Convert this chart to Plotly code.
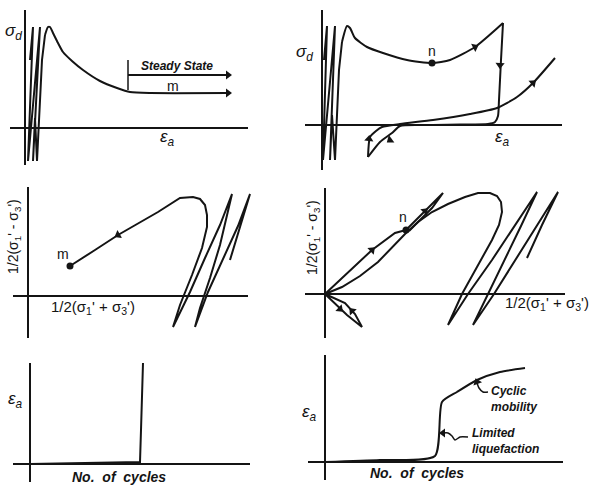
import math
import plotly.graph_objects as go

W, H = 599, 486

# ---------------- DATA (local units: origin at each panel's axis crossing) ----------------
# Panel 1: sigma_d vs eps_a (contractive, flow to steady state)
p1_cyc_x = [5, 8, 3, 15, 8, 10, 12, 17, 20]
p1_cyc_y = [68, 101, -33, 101, -33, 10, -33, 68, 93]
p1_soft_x = [20, 23, 25, 28, 33, 38, 47, 58, 75, 92, 105, 125, 203]
p1_soft_y = [93, 101, 101, 95, 85, 76, 67, 58, 47, 40, 36, 35, 35]
p1_tick_x = [103, 103]
p1_tick_y = [68, 38]
p1_ss_x = [103, 203]
p1_ss_y = [53, 53]

# Panel 2: sigma_d vs eps_a (limited liquefaction)
p2_cyc_x = [2, 5, 1, 13, 8, 10, 13, 17, 20]
p2_cyc_y = [65, 99, -35, 99, -35, 10, -35, 55, 83]
p2_main_x = [20, 25, 28, 33, 45, 61, 85, 110, 128, 153, 181]
p2_main_y = [83, 99, 97, 87, 78, 72, 65, 62, 65, 78, 102]
p2_drop_x = [181, 179, 177, 176, 173, 166, 138, 98, 78, 70, 58, 46]
p2_drop_y = [102, 65, 25, 9, 3, 1, 0.5, 0, -1, -8, -17, -32]
p2_rise_x = [46, 48, 54, 60, 78, 111, 148, 175, 195, 211, 233]
p2_rise_y = [-32, -12, -6, -2, 1, 5, 11, 17, 28, 42, 67]
p2_n = (110, 62)

# Panel 3: stress path, contractive
p3_path_x = [202, 212, 222, 210, 194, 180, 167, 172, 182, 192, 204, 192, 177, 162, 145,
             152, 164, 174, 179, 179, 177, 172, 165, 152, 130, 90, 67, 42]
p3_path_y = [36, 68, 102, 70, 34, 4, -31, -12, 18, 51, 102, 71, 38, 4, -31,
             -9, 21, 48, 69, 81, 91, 97, 99, 98, 84, 61, 46, 30]
p3_m = (42, 30)

# Panel 4: stress path, limited liquefaction
p4_path_x = [202, 217, 233, 213, 191, 169, 148, 163, 180, 196, 212, 191, 167, 143, 123,
             137, 153, 167, 174, 177, 176, 172, 165, 153, 140, 123, 107, 93, 80, 67, 53, 35, 17, 0]
p4_path_y = [36, 69, 102, 70, 34, 0, -31, 0, 34, 68, 102, 70, 34, 0, -31,
             0, 29, 54, 69, 82, 92, 98, 101, 101, 97, 90, 82, 72, 60, 46, 32, 18, 7, 0]
p4_loop_x = [0, 10, 22, 37, 30, 20, 0]
p4_loop_y = [0, -10, -21, -33, -20, -9, 0]
p4_line_x = [0, 47, 70, 81]
p4_line_y = [0, 44, 61, 64]
p4_lens_x = [81, 100, 118, 107, 95, 84]
p4_lens_y = [64, 83, 101, 86, 74, 63]
p4_n = (81, 64)

# Panel 5: eps_a vs number of cycles (flow liquefaction)
p5_x = [0, 50, 110, 111, 112, 113]
p5_y = [0, 1, 2, 34, 64, 101]

# Panel 6: eps_a vs number of cycles (limited liquefaction + cyclic mobility)
p6_x = [0, 55, 110, 117, 132, 152, 175, 200]
p6_y = [0, 2, 6, 60, 70, 82, 90, 94]
p6_cm_ptr_x = [163, 158, 154, 152]
p6_cm_ptr_y = [70, 70, 74, 79]
p6_ll_ptr_x = [143, 135, 130, 127, 123, 118]
p6_ll_ptr_y = [25, 25, 22, 26, 29, 29]

# Arrowhead locations (on the curves)
p1_arrows = [(203, 35), (203, 53)]
p2_arrows = [(153, 78), (178, 60), (68, -15), (47, -14), (211, 42)]
p3_arrows = [(90, 61)]
p4_arrows = [(47, 44), (100, 83), (15, -15), (27, -17)]
p6_arrows = [(152, 80), (118, 29)]

# ---------------- LAYOUT ----------------
PANELS = [
    dict(box=(0, 300, 0, 170), origin=(25, 128), v=(118, -37), h=(-15, 223)),
    dict(box=(300, 599, 0, 170), origin=(322, 125), v=(115, -45), h=(-17, 240)),
    dict(box=(0, 300, 170, 340), origin=(28, 296), v=(109, -42), h=(-15, 220)),
    dict(box=(300, 599, 170, 340), origin=(325, 294), v=(106, -44), h=(-20, 240)),
    dict(box=(0, 300, 340, 486), origin=(30, 464), v=(101, -18), h=(-17, 220)),
    dict(box=(300, 599, 340, 486), origin=(325, 462), v=(107, -18), h=(-17, 238)),
]

INK = "#141414"
FONT = "Liberation Sans"
fig = go.Figure()
layout = dict(width=W, height=H, margin=dict(l=0, r=0, t=0, b=0),
              paper_bgcolor="white", plot_bgcolor="white", showlegend=False)
shapes = []
annotations = []


def names(i):
    return ("x" if i == 1 else f"x{i}", "y" if i == 1 else f"y{i}")


for i, p in enumerate(PANELS, start=1):
    x0, x1, y0, y1 = p["box"]
    ox, oy = p["origin"]
    xn, yn = names(i)
    layout["xaxis" if i == 1 else f"xaxis{i}"] = dict(
        domain=[x0 / W, x1 / W], range=[x0 - ox, x1 - ox], visible=False,
        anchor=yn, fixedrange=True)
    layout["yaxis" if i == 1 else f"yaxis{i}"] = dict(
        domain=[1 - y1 / H, 1 - y0 / H], range=[oy - y1, oy - y0], visible=False,
        anchor=xn, fixedrange=True)
    shapes.append(dict(type="line", xref=xn, yref=yn, x0=0, x1=0, y0=p["v"][0], y1=p["v"][1],
                       line=dict(color=INK, width=2)))
    shapes.append(dict(type="line", xref=xn, yref=yn, x0=p["h"][0], x1=p["h"][1], y0=0, y1=0,
                       line=dict(color=INK, width=2)))


def curve(i, xs, ys, smooth=True, width=2):
    xn, yn = names(i)
    fig.add_trace(go.Scatter(
        x=xs, y=ys, xaxis=xn, yaxis=yn, mode="lines", hoverinfo="skip",
        line=dict(color=INK, width=width, shape="spline" if smooth else "linear",
                  **({"smoothing": 0.6} if smooth else {}))))


def arrows(i, pts, curves):
    xn, yn = names(i)
    xs, ys, angs = [], [], []
    for (px, py) in pts:
        best = None
        for (cx, cy) in curves:
            for j in range(len(cx) - 1):
                ax_, ay_, bx, by = cx[j], cy[j], cx[j + 1], cy[j + 1]
                dx, dy = bx - ax_, by - ay_
                L2 = dx * dx + dy * dy
                if L2 == 0:
                    continue
                t = max(0, min(1, ((px - ax_) * dx + (py - ay_) * dy) / L2))
                qx, qy = ax_ + t * dx, ay_ + t * dy
                d = (qx - px) ** 2 + (qy - py) ** 2
                if best is None or d < best[0]:
                    best = (d, dx, dy)
        xs.append(px)
        ys.append(py)
        angs.append(math.degrees(math.atan2(best[1], best[2])))
    fig.add_trace(go.Scatter(
        x=xs, y=ys, xaxis=xn, yaxis=yn, mode="markers", hoverinfo="skip",
        marker=dict(symbol="triangle-up", size=8, color=INK, angle=angs,
                    line=dict(width=0))))


def dot(i, pt):
    xn, yn = names(i)
    fig.add_trace(go.Scatter(x=[pt[0]], y=[pt[1]], xaxis=xn, yaxis=yn, mode="markers",
                             hoverinfo="skip", marker=dict(size=7, color=INK)))


def text(i, x, y, s, size=13, angle=0, xanchor="center", align="center"):
    xn, yn = names(i)
    annotations.append(dict(xref=xn, yref=yn, x=x, y=y, text=s, showarrow=False,
                            textangle=angle, xanchor=xanchor, align=align,
                            font=dict(family=FONT, size=size, color=INK)))


# Panel 1
curve(1, p1_cyc_x, p1_cyc_y, smooth=False)
curve(1, p1_soft_x, p1_soft_y)
curve(1, p1_tick_x, p1_tick_y, smooth=False, width=1.5)
curve(1, p1_ss_x, p1_ss_y, smooth=False)
arrows(1, p1_arrows, [(p1_soft_x, p1_soft_y), (p1_ss_x, p1_ss_y)])
text(1, -12, 96, "<i>σ<sub>d</sub></i>", size=17)
text(1, 142, -10, "<i>ε<sub>a</sub></i>", size=17)
text(1, 152, 62, "<b><i>Steady State</i></b>", size=12)
text(1, 148, 42, "m", size=14)

# Panel 2
curve(2, p2_cyc_x, p2_cyc_y, smooth=False)
curve(2, p2_main_x, p2_main_y)
curve(2, p2_drop_x, p2_drop_y)
curve(2, p2_rise_x, p2_rise_y)
arrows(2, p2_arrows, [(p2_main_x, p2_main_y), (p2_drop_x, p2_drop_y), (p2_rise_x, p2_rise_y)])
dot(2, p2_n)
text(2, -18, 72, "<i>σ<sub>d</sub></i>", size=17)
text(2, 180, -13, "<i>ε<sub>a</sub></i>", size=17)
text(2, 110, 74, "n", size=14)

# Panel 3
curve(3, p3_path_x, p3_path_y, smooth=False)
arrows(3, p3_arrows, [(p3_path_x, p3_path_y)])
dot(3, p3_m)
text(3, -14, 59, "1/2(σ<sub>1</sub>' - σ<sub>3</sub>')", size=14, angle=-90)
text(3, 65, -11, "1/2(σ<sub>1</sub>' + σ<sub>3</sub>')", size=15)
text(3, 35, 42, "m", size=14)

# Panel 4
curve(4, p4_path_x, p4_path_y, smooth=False)
curve(4, p4_loop_x, p4_loop_y, smooth=False)
curve(4, p4_line_x, p4_line_y, smooth=False)
curve(4, p4_lens_x, p4_lens_y, smooth=False)
arrows(4, p4_arrows, [(p4_line_x, p4_line_y), (p4_lens_x, p4_lens_y), (p4_loop_x, p4_loop_y)])
dot(4, p4_n)
text(4, -12, 56, "1/2(σ<sub>1</sub>' - σ<sub>3</sub>')", size=14, angle=-90)
text(4, 222, -9, "1/2(σ<sub>1</sub>' + σ<sub>3</sub>')", size=15)
text(4, 78, 77, "n", size=14)

# Panel 5
curve(5, p5_x, p5_y, smooth=False)
text(5, -15, 64, "<i>ε<sub>a</sub></i>", size=17)
text(5, 89, -13, "<b><i>No.  of  cycles</i></b>", size=14)

# Panel 6
curve(6, p6_x, p6_y)
curve(6, p6_cm_ptr_x, p6_cm_ptr_y, width=1.5)
curve(6, p6_ll_ptr_x, p6_ll_ptr_y, width=1.5)
arrows(6, p6_arrows, [(p6_cm_ptr_x, p6_cm_ptr_y), (p6_ll_ptr_x, p6_ll_ptr_y)])
text(6, -16, 49, "<i>ε<sub>a</sub></i>", size=17)
text(6, 92, -11, "<b><i>No.  of  cycles</i></b>", size=14)
text(6, 164, 63, "<b><i>Cyclic<br>mobility</i></b>", size=12, xanchor="left", align="left")
text(6, 145, 21, "<b><i>Limited<br>liquefaction</i></b>", size=12, xanchor="left", align="left")

layout["shapes"] = shapes
layout["annotations"] = annotations
fig.update_layout(**layout)
fig.write_html("out.html", config={"displayModeBar": False, "staticPlot": True},
               post_script="document.body.style.margin='0';document.body.style.padding='0';"
                           "document.documentElement.style.overflow='hidden';")
